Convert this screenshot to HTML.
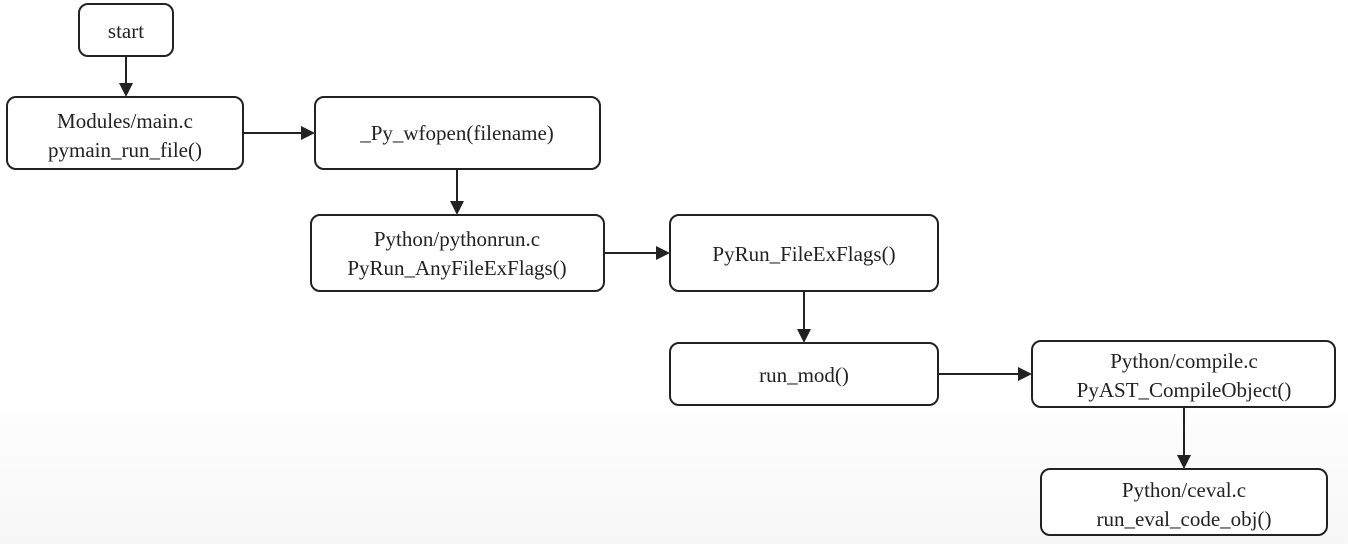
<!DOCTYPE html>
<html><head><meta charset="utf-8"><style>
html,body{margin:0;padding:0;width:1348px;height:544px;overflow:hidden;background:linear-gradient(#fff 0,#fff 380px,#f7f7f7 544px);}
svg{display:block}
text{font-family:"Liberation Serif","Times New Roman",Times,"DejaVu Serif",serif;font-size:21px;fill:#222;text-anchor:middle}
</style></head><body>
<svg width="1348" height="544" viewBox="0 0 1348 544" font-family="Liberation Serif, Times New Roman, serif">
<g fill="#fff" stroke="#222" stroke-width="2">
<rect x="79" y="4" width="94" height="52" rx="9"/>
<rect x="7" y="97" width="236" height="72" rx="9"/>
<rect x="315" y="97" width="285" height="72" rx="9"/>
<rect x="311" y="215" width="293" height="76" rx="9"/>
<rect x="670" y="215" width="268" height="76" rx="9"/>
<rect x="670" y="343" width="268" height="62" rx="9"/>
<rect x="1032" y="341" width="303" height="66" rx="9"/>
<rect x="1041" y="469" width="286" height="66" rx="9"/>
</g>
<g stroke="#222" stroke-width="2" fill="none">
<line x1="126" y1="56" x2="126" y2="85"/>
<line x1="243" y1="133" x2="303" y2="133"/>
<line x1="457" y1="169" x2="457" y2="203"/>
<line x1="604" y1="253" x2="658" y2="253"/>
<line x1="804" y1="291" x2="804" y2="331"/>
<line x1="938" y1="374" x2="1020" y2="374"/>
<line x1="1184" y1="407" x2="1184" y2="457"/>
</g>
<g fill="#222">
<path d="M119,83 L133,83 L126,97 z"/>
<path d="M301,126 L301,140 L315,133 z"/>
<path d="M450,201 L464,201 L457,215 z"/>
<path d="M656,246 L656,260 L670,253 z"/>
<path d="M797,329 L811,329 L804,343 z"/>
<path d="M1018,367 L1018,381 L1032,374 z"/>
<path d="M1177,455 L1191,455 L1184,469 z"/>
</g>
<text x="126" y="38">start</text>
<text x="125" y="128">Modules/main.c</text>
<text x="125" y="157">pymain_run_file()</text>
<text x="457" y="140">_Py_wfopen(filename)</text>
<text x="457" y="246">Python/pythonrun.c</text>
<text x="457" y="275">PyRun_AnyFileExFlags()</text>
<text x="804" y="261">PyRun_FileExFlags()</text>
<text x="804" y="382">run_mod()</text>
<text x="1184" y="368">Python/compile.c</text>
<text x="1184" y="397">PyAST_CompileObject()</text>
<text x="1184" y="497">Python/ceval.c</text>
<text x="1184" y="526">run_eval_code_obj()</text>
</svg>
</body></html>
